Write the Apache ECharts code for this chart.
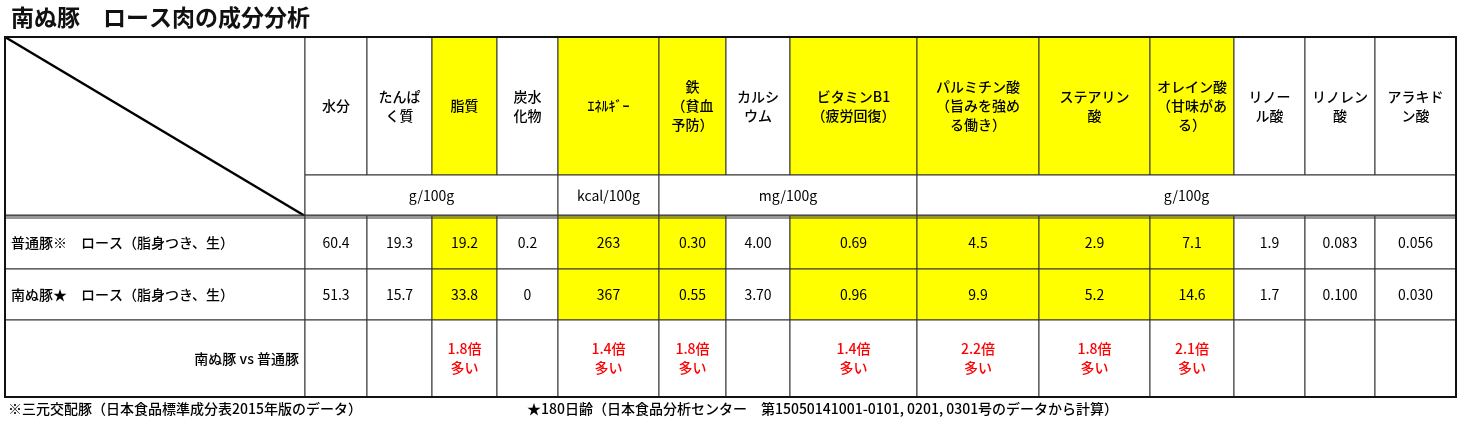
<!DOCTYPE html>
<html lang="ja">
<head>
<meta charset="UTF-8">
<title>南ぬ豚 ロース肉の成分分析</title>
<script src="https://cdn.jsdelivr.net/npm/echarts@6/dist/echarts.min.js"></script>
<style>
  * { margin: 0; padding: 0; }
  body { background: #fff; }
  #main { width: 1474px; height: 434px; }
</style>
</head>
<body>
<div id="main"></div>
<script>
// data
var headers = ['水分', 'たんぱ\nく質', '脂質', '炭水\n化物', 'ｴﾈﾙｷﾞｰ', '鉄\n（貧血\n予防）', 'カルシ\nウム',
  'ビタミンB1\n（疲労回復）', 'パルミチン酸\n（旨みを強め\nる働き）', 'ステアリン\n酸', 'オレイン酸\n（甘味があ\nる）',
  'リノー\nル酸', 'リノレン\n酸', 'アラキド\nン酸'];
var highlight = [false, false, true, false, true, true, false, true, true, true, true, false, false, false];
var units = [['g/100g', 0, 4], ['kcal/100g', 4, 5], ['mg/100g', 5, 8], ['g/100g', 8, 14]];
var rowLabels = ['普通豚※　ロース（脂身つき、生）', '南ぬ豚★　ロース（脂身つき、生）'];
var normalPork = ['60.4', '19.3', '19.2', '0.2', '263', '0.30', '4.00', '0.69', '4.5', '2.9', '7.1', '1.9', '0.083', '0.056'];
var nanuPork = ['51.3', '15.7', '33.8', '0', '367', '0.55', '3.70', '0.96', '9.9', '5.2', '14.6', '1.7', '0.100', '0.030'];
var compareLabel = '南ぬ豚 vs 普通豚';
var ratios = ['', '', '1.8倍\n多い', '', '1.4倍\n多い', '1.8倍\n多い', '', '1.4倍\n多い', '2.2倍\n多い', '1.8倍\n多い', '2.1倍\n多い', '', '', ''];

// layout (pixel units on hidden axes)
var colEdges = [5, 305, 367, 432, 497, 558, 659, 726, 790, 917, 1039, 1150, 1234, 1305, 1375, 1456];
var rowEdges = [37, 175, 216, 269, 320, 397];
var YELLOW = '#ffff00';
var FONT = '"Noto Sans CJK JP", sans-serif';

var cells = [];
function add(x0, x1, y0, y1, text, opt) {
  opt = opt || {};
  cells.push({ value: [x0, y0, x1, y1], text: text, fill: opt.fill || '#fff',
    color: opt.color || '#000', align: opt.align || 'center', diag: !!opt.diag, weight: opt.weight || 'normal' });
}
add(colEdges[0], colEdges[1], rowEdges[0], rowEdges[2], '', { diag: true });
headers.forEach(function (h, i) {
  add(colEdges[i + 1], colEdges[i + 2], rowEdges[0], rowEdges[1], h, { fill: highlight[i] ? YELLOW : '#fff', weight: '500' });
});
units.forEach(function (u) {
  add(colEdges[u[1] + 1], colEdges[u[2] + 1], rowEdges[1], rowEdges[2], u[0]);
});
[normalPork, nanuPork].forEach(function (row, r) {
  add(colEdges[0], colEdges[1], rowEdges[r + 2], rowEdges[r + 3], rowLabels[r], { align: 'left', weight: '500' });
  row.forEach(function (v, i) {
    add(colEdges[i + 1], colEdges[i + 2], rowEdges[r + 2], rowEdges[r + 3], v, { fill: highlight[i] ? YELLOW : '#fff' });
  });
});
add(colEdges[0], colEdges[1], rowEdges[4], rowEdges[5], compareLabel, { align: 'right', weight: '500' });
ratios.forEach(function (v, i) {
  add(colEdges[i + 1], colEdges[i + 2], rowEdges[4], rowEdges[5], v, { color: '#ff0000', weight: '500' });
});

var chart = echarts.init(document.getElementById('main'));
chart.setOption({
  animation: false,
  title: {
    text: '南ぬ豚　ロース肉の成分分析', left: 6, top: 1,
    textStyle: { fontFamily: FONT, fontSize: 23, fontWeight: 'bold', color: '#111' }
  },
  grid: { left: 0, right: 0, top: 0, bottom: 0 },
  xAxis: { type: 'value', min: 0, max: 1474, show: false },
  yAxis: { type: 'value', min: 0, max: 434, inverse: true, show: false },
  graphic: [
    { type: 'text', left: 8, top: 402, style: { text: '※三元交配豚（日本食品標準成分表2015年版のデータ）',
      font: '500 14px ' + FONT, fill: '#000' } },
    { type: 'text', left: 527, top: 402, style: { text: '★180日齢（日本食品分析センター　第15050141001-0101, 0201, 0301号のデータから計算）',
      font: '500 14px ' + FONT, fill: '#000' } }
  ],
  series: [{
    type: 'custom',
    coordinateSystem: 'cartesian2d',
    data: cells,
    renderItem: function (params, api) {
      var c = cells[params.dataIndex];
      var p0 = api.coord([c.value[0], c.value[1]]);
      var p1 = api.coord([c.value[2], c.value[3]]);
      var w = p1[0] - p0[0], h = p1[1] - p0[1];
      var children = [{
        type: 'rect', shape: { x: p0[0], y: p0[1], width: w, height: h },
        style: { fill: c.fill, stroke: '#333', lineWidth: 1 }
      }];
      if (c.diag) {
        children.push({ type: 'line', shape: { x1: p0[0], y1: p0[1], x2: p1[0], y2: p1[1] },
          style: { stroke: '#000', lineWidth: 2.5 } });
      }
      if (c.text) {
        var tx = c.align === 'left' ? p0[0] + 6 : c.align === 'right' ? p1[0] - 6 : p0[0] + w / 2;
        children.push({ type: 'text', style: {
          x: tx, y: p0[1] + h / 2, text: c.text, align: c.align, verticalAlign: 'middle',
          font: c.weight + ' 14px ' + FONT, fill: c.color, lineHeight: 19
        } });
      }
      return { type: 'group', children: children };
    }
  }, {
    type: 'custom',
    coordinateSystem: 'cartesian2d',
    data: [[colEdges[0], rowEdges[2], colEdges[colEdges.length - 1]]],
    z: 5,
    renderItem: function (params, api) {
      var a = api.coord([api.value(0), api.value(1)]);
      var b = api.coord([api.value(2), api.value(1)]);
      return { type: 'group', children: [
        { type: 'line', shape: { x1: a[0], y1: a[1] - 1, x2: b[0], y2: b[1] - 1 }, style: { stroke: '#333', lineWidth: 1.2 } },
        { type: 'line', shape: { x1: a[0], y1: a[1] + 2, x2: b[0], y2: b[1] + 2 }, style: { stroke: '#333', lineWidth: 1.2 } }
      ] };
    }
  }, {
    type: 'custom',
    coordinateSystem: 'cartesian2d',
    data: [[colEdges[0], rowEdges[0], colEdges[colEdges.length - 1], rowEdges[rowEdges.length - 1]]],
    z: 6,
    renderItem: function (params, api) {
      var a = api.coord([api.value(0), api.value(1)]);
      var b = api.coord([api.value(2), api.value(3)]);
      return { type: 'rect', shape: { x: a[0], y: a[1], width: b[0] - a[0], height: b[1] - a[1] },
        style: { fill: 'none', stroke: '#111', lineWidth: 2 } };
    }
  }]
});
</script>
</body>
</html>
